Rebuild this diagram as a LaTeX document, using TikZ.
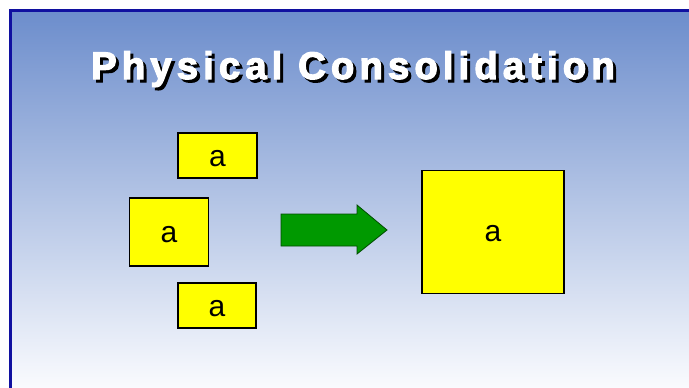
\documentclass[tikz,border=0pt]{standalone}
\usepackage{fontspec}
\setmainfont{Liberation Sans}
\newfontfamily\titlefont[LetterSpace=13,FakeBold=3]{Liberation Sans Bold}
\definecolor{bgtop}{HTML}{6C8DCC}
\definecolor{bgbot}{HTML}{FAFBFE}
\definecolor{frame}{HTML}{1010A0}
\definecolor{arrowgreen}{HTML}{009900}
\definecolor{boxyellow}{HTML}{FFFF00}
\tikzset{
  ybox/.style={draw=black, line width=1.8pt, fill=boxyellow, inner sep=0pt},
  boxtext/.style={inner sep=0pt, font=\fontsize{30}{30}\selectfont},
  titletext/.style={inner sep=0pt, anchor=base, font=\titlefont\fontsize{38.5}{38.5}\selectfont},
}
\begin{document}
\begin{tikzpicture}[x=1pt,y=-1pt]
\useasboundingbox (0,0) rectangle (689,388);
\shade[top color=bgtop, bottom color=bgbot] (11,10.5) rectangle (689,388);
\draw[frame, line width=3pt] (10.5,392) -- (10.5,10.5) -- (693,10.5);
% title
\node[titletext, text=black] (titleshadow) at (356,82) {Physical Consolidation};
\node[titletext, text=white] (title) at (353,79) {Physical Consolidation};
% small boxes
\node[ybox, minimum width=79pt, minimum height=45pt] (b1) at (217.5,155.5) {};
\node[ybox, minimum width=79pt, minimum height=68pt] (b2) at (169,232) {};
\node[ybox, minimum width=78pt, minimum height=45pt] (b3) at (217,305.5) {};
\node[boxtext] (t1) at ([yshift=-3.5pt]b1.center) {a};
\node[boxtext] (t2) at ([yshift=-2.5pt]b2.center) {a};
\node[boxtext] (t3) at ([yshift=-3pt]b3.center) {a};
% arrow
\draw[fill=arrowgreen, draw=black!70!green, line width=0.8pt] (281,214) -- (357,214) -- (357,205) -- (387,230) -- (357,254) -- (357,246) -- (281,246) -- cycle;
% big box
\node[ybox, minimum width=142pt, minimum height=123pt] (big) at (493,232) {};
\node[boxtext] (tbig) at ([yshift=-2pt]big.center) {a};
\end{tikzpicture}
\end{document}
